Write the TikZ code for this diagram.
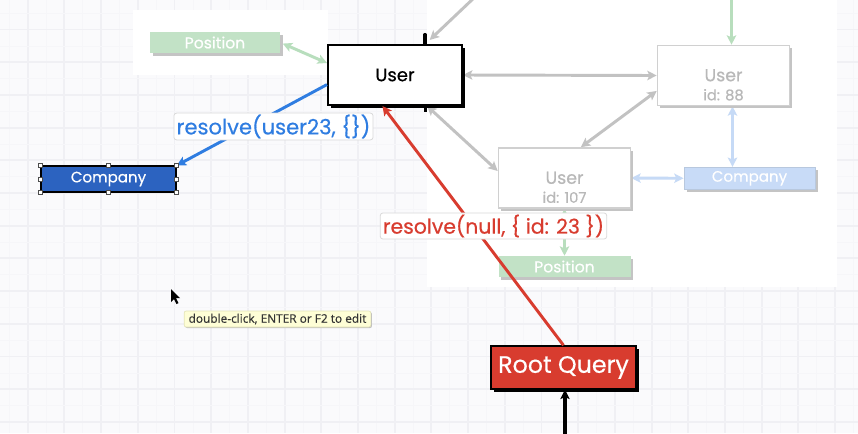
\documentclass[tikz,border=0pt]{standalone}
\usepackage{fontspec}
\setmainfont{Poppins}[FakeBold=0.5]
\newfontfamily\tipfont{Open Sans}[FakeBold=0.3]
\usetikzlibrary{arrows.meta,shadows,calc}
\pgfdeclarelayer{background}
\pgfdeclarelayer{edges}
\pgfsetlayers{background,edges,main}
\definecolor{bgcol}{HTML}{FAFAFC}
\definecolor{gridmaj}{HTML}{F0F0F4}
\definecolor{gridmin}{HTML}{F6F6F9}
\definecolor{greenfill}{HTML}{C2E2C6}
\definecolor{greenline}{HTML}{B8DEBD}
\definecolor{grayline}{HTML}{C2C2C2}
\definecolor{gboxline}{HTML}{D0D0D0}
\definecolor{shgray}{HTML}{C4C4C4}
\definecolor{graytext}{HTML}{B8B8B8}
\definecolor{lbfill}{HTML}{C8DBF7}
\definecolor{lbline}{HTML}{C6DAF6}
\definecolor{darkblue}{HTML}{2C63C0}
\definecolor{bluearrow}{HTML}{2F7DE1}
\definecolor{redc}{HTML}{D83C2F}
\definecolor{tipfill}{HTML}{FEFED6}
\definecolor{tipline}{HTML}{E4E4B8}
\definecolor{lblline}{HTML}{DADADA}
\begin{document}
\begin{tikzpicture}[x=0.75pt,y=-0.75pt,
  >={Stealth[length=7pt,width=7pt,inset=1.5pt]},
  gshadow/.style={drop shadow={shadow xshift=2pt,shadow yshift=-2pt,fill=shgray,opacity=1}},
  bshadow/.style={drop shadow={shadow xshift=2pt,shadow yshift=-2pt,fill=black,opacity=1}},
  gbox/.style={rectangle,draw=gboxline,line width=1.2pt,fill=white,gshadow,minimum width=99pt,minimum height=45pt,inner sep=0pt},
  gtxt/.style={align=center,text=graytext,font=\fontsize{13}{14.25}\selectfont,inner sep=0pt},
  mainbox/.style={rectangle,draw=black,line width=1.5pt,fill=white,bshadow,minimum width=100.5pt,minimum height=45pt,inner sep=0pt,font=\fontsize{13.5}{15}\selectfont},
  greenbox/.style={rectangle,fill=greenfill,gshadow,minimum width=97.5pt,minimum height=15.75pt,inner sep=0pt,text=white,font=\fontsize{11.7}{13}\selectfont},
  lbbox/.style={rectangle,fill=lbfill,draw=lbline!80!gray,line width=0.6pt,gshadow,minimum width=98.25pt,minimum height=16.5pt,inner sep=0pt,text=white,font=\fontsize{11.3}{13}\selectfont},
  darkbox/.style={rectangle,fill=darkblue,draw=black,line width=1.3pt,minimum width=101pt,minimum height=19pt,inner sep=0pt,text=white,font=\fontsize{11.3}{13}\selectfont},
  rootbox/.style={rectangle,fill=redc,draw=black,line width=1.3pt,bshadow,minimum width=108.75pt,minimum height=32pt,inner sep=0pt,text=white,font=\fontsize{17.8}{20}\selectfont},
  lbl/.style={rectangle,fill=white,draw=lblline,line width=0.6pt,rounded corners=2pt,inner xsep=2pt,inner ysep=1.2pt,font=\fontsize{15.3}{17}\selectfont},
  grayln/.style={draw=grayline,line width=2.2pt},
  greenln/.style={draw=greenline,line width=2.2pt},
  lblueln/.style={draw=lbline,line width=2.2pt},
  blueln/.style={draw=bluearrow,line width=2.2pt},
  redln/.style={draw=redc,line width=2.2pt},
  blackln/.style={draw=black,line width=2.6pt},
  handle/.style={fill=white,draw=black!70,line width=0.5pt},
  tipbox/.style={rectangle,fill=tipfill,draw=tipline,line width=0.5pt,rounded corners=1.5pt,minimum width=140pt,minimum height=12pt,inner sep=0pt,text=black!80,font=\tipfont\fontsize{8.9}{10}\selectfont,drop shadow={shadow xshift=0.8pt,shadow yshift=-0.8pt,fill=black!25,opacity=1}}
]
\useasboundingbox (0,0) rectangle (858,433);
\clip (0,0) rectangle (858,433);
\begin{pgfonlayer}{background}
  \fill[bgcol] (0,0) rectangle (858,433);
  \foreach \i in {0,...,23} {
    \draw[gridmin,line width=0.5pt] ({9.35+36.7*\i},0) -- ++(0,433);
    \draw[gridmaj,line width=1.4pt] ({27.7+36.7*\i},0) -- ++(0,433);
  }
  \foreach \j in {-1,...,13} {
    \draw[gridmin,line width=0.5pt] (0,{13.15+32.7*\j}) -- ++(858,0);
    \draw[gridmaj,line width=1.4pt] (0,{29.5+32.7*\j}) -- ++(858,0);
  }
  \fill[white] (133,10) rectangle (328,75);
  \fill[white] (427,0) rectangle (837,287);
\end{pgfonlayer}

% nodes
\node[greenbox] (posA) at (215,42.5) {Position};
\node[mainbox] (userM) at (395,75) {User};
\node[gbox] (u88) at (723.5,75.5) {};
\node[gtxt] (u88t) at ([yshift=-7pt]u88.center) {User\\{\fontsize{11}{12}\selectfont id: 88}};
\node[gbox] (u107) at (564.5,178) {};
\node[gtxt] (u107t) at ([yshift=-7pt]u107.center) {User\\{\fontsize{11}{12}\selectfont id: 107}};
\node[lbbox] (compR) at (749.5,178.3) {Company};
\node[greenbox,minimum width=99pt] (posB) at (564.5,266.5) {Position};
\node[darkbox] (compL) at (108.5,179) {Company};
\node[rootbox] (root) at (563.5,367.5) {Root Query};

\coordinate (gtop) at (476,-4);
\coordinate (grtop) at (731.5,-4);
\coordinate (bx) at (732.5,0);
\coordinate (bot) at (565,440);

\begin{pgfonlayer}{edges}
  \draw[greenln,<->,shorten <=2pt] (posA.east) -- (userM.170);
  \draw[grayln,->] (gtop) -- ([xshift=26pt,yshift=3pt]userM.north);
  \draw[grayln,<->] (userM.east) -- (u88.west);
  \draw[grayln,<->] (u88.193) -- (u107.62);
  \draw[grayln,<->] (userM.-44) -- (u107.174);
  \draw[greenln,->] (grtop) -- (grtop |- u88.north);
  \draw[lblueln,<->] (bx |- u88.south) -- (bx |- compR.north);
  \draw[lblueln,<->] (u107.east) -- (compR.west);
  \draw[greenln,<->] (u107.south) -- (posB.north);
  \draw[blackln,->] (bot) -- (bot |- root.south);
  \draw[black,line width=2.6pt,line cap=round] ([xshift=22.5pt,yshift=7pt]userM.north) -- ([xshift=22.5pt]userM.north);
  \draw[black,line width=2pt] ([xshift=23pt]userM.south) -- ([xshift=23pt,yshift=-4.5pt]userM.south);
\end{pgfonlayer}

\draw[blueln,->] (userM.188) -- (compL.north east);
\draw[redln,->] (root.north) -- (userM.248);
\node[lbl,text=bluearrow,font=\fontsize{15.8}{17}\selectfont] (lblB) at (273.5,126.5) {resolve(user23, \{\})};
\node[lbl,text=redc] (lblR) at (493.5,226) {resolve(null, \{ id: 23 \})};

\foreach \a in {north west,north,north east,west,east,south west,south,south east}
  \filldraw[handle] ($(compL.\a)+(-2,-2)$) rectangle ($(compL.\a)+(2,2)$);

\node[tipbox] (tip) at (277.5,319) {double-click, ENTER or F2 to edit};

\fill[black] (171,289) -- (171,302) -- (174,299) -- (176.5,304) -- (178.5,303) -- (176,298) -- (180,298) -- cycle;
\end{tikzpicture}
\end{document}
